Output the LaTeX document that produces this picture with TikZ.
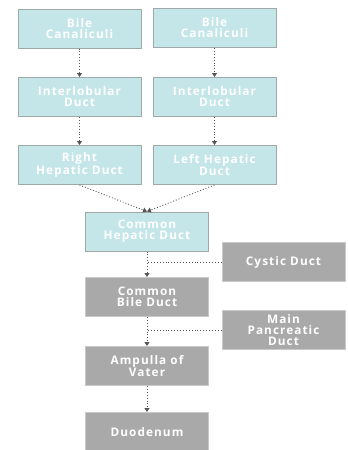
\documentclass[tikz,border=0pt]{standalone}
\usepackage{fontspec}
\setsansfont{Open Sans}
\usetikzlibrary{arrows.meta}
\definecolor{ductblue}{HTML}{C4E6E8}
\definecolor{ductbluerim}{HTML}{9FA9AA}
\definecolor{ductgrey}{HTML}{A9A9A9}
\definecolor{ductgreyrim}{HTML}{C9C9C9}
\definecolor{linkgrey}{HTML}{555555}
\begin{document}
\begin{tikzpicture}[x=1pt,y=-1pt,
  box/.style={rectangle, minimum width=123pt, minimum height=39pt, line width=1pt,
    text=white, align=center, inner sep=1pt,
    font=\sffamily\bfseries\fontsize{11.8}{11}\selectfont\addfontfeatures{LetterSpace=9}},
  bluebox/.style={box, fill=ductblue, draw=ductbluerim},
  greybox/.style={box, fill=ductgrey, draw=ductgreyrim},
  link/.style={dotted, line width=0.9pt, linkgrey, -{Triangle[width=5pt,length=4pt]}},
  joinlink/.style={dotted, line width=0.9pt, linkgrey}]
\useasboundingbox (0,0) rectangle (348,450);
\node[bluebox] (bc1) at (79.5,28.5){Bile\\Canaliculi};
\node[bluebox] (bc2) at (214.5,28){Bile\\Canaliculi};
\node[bluebox] (il1) at (79.5,97){Interlobular\\Duct};
\node[bluebox] (il2) at (214.5,97){Interlobular\\Duct};
\node[bluebox] (rh) at (79.5,165){Right\\Hepatic Duct};
\node[bluebox] (lh) at (214.5,165){Left Hepatic\\Duct};
\node[bluebox] (ch) at (147,231.5){Common\\Hepatic Duct};
\node[greybox] (cy) at (283.5,262){Cystic Duct};
\node[greybox] (cb) at (147,297){Common\\Bile Duct};
\node[greybox] (mp) at (283.5,330){Main\\Pancreatic\\Duct};
\node[greybox] (av) at (147,366){Ampulla of\\Vater};
\node[greybox] (du) at (147,432){Duodenum};
\coordinate (cyjoin) at (147,262);
\coordinate (mpjoin) at (147,330);
\draw[link](bc1) -- (il1);
\draw[link](bc2) -- (il2);
\draw[link](il1) -- (rh);
\draw[link](il2) -- (lh);
\draw[link](rh.south) -- (ch.north);
\draw[link](lh.south) -- (ch.north);
\draw[link](ch) -- (cb);
\draw[joinlink](cy) -- (cyjoin);
\draw[link](cb) -- (av);
\draw[joinlink](mp) -- (mpjoin);
\draw[link](av) -- (du);

\end{tikzpicture}
\end{document}
